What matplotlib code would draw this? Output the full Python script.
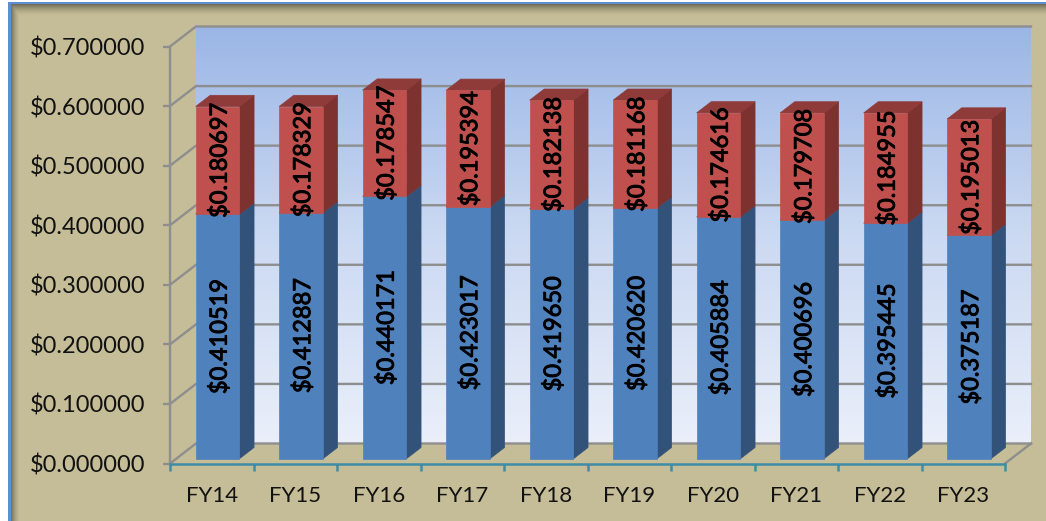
import numpy as np
import matplotlib
matplotlib.use("Agg")
import matplotlib.pyplot as plt
import matplotlib.patheffects as pe
from matplotlib.colors import LinearSegmentedColormap
from matplotlib.patches import Polygon

plt.rcParams['font.family'] = ['Lato', 'DejaVu Sans']

years = ["FY14", "FY15", "FY16", "FY17", "FY18", "FY19", "FY20", "FY21", "FY22", "FY23"]
lower = [0.410519, 0.412887, 0.440171, 0.423017, 0.419650,
         0.420620, 0.405884, 0.400696, 0.395445, 0.375187]
upper = [0.180697, 0.178329, 0.178547, 0.195394, 0.182138,
         0.181168, 0.174616, 0.179708, 0.184955, 0.195013]
y_ticks = [0.0, 0.1, 0.2, 0.3, 0.4, 0.5, 0.6, 0.7]

W, H = 1046, 521
TAN = "#C5BD97"
GRID = "#8E8E8E"
TEAL = "#3F8CA6"

fig = plt.figure(figsize=(W / 100, H / 100), dpi=100, facecolor="white")

# picture frame: tan panel with blue edge and a soft inner shadow
bg = fig.add_axes([0, 0, 1, 1], zorder=0)
bg.set_axis_off()
bg.set_xlim(0, W)
bg.set_ylim(H, 0)
xx, yy = np.meshgrid(np.arange(W) + 0.5, np.arange(H) + 0.5)
shade = np.maximum(np.clip(1 - (yy - 3) / 13, 0, 1) ** 1.6 * 0.62,
                   np.clip(1 - (xx - 10) / 10, 0, 1) ** 1.6 * 0.62)
rgb = np.array(matplotlib.colors.to_rgb(TAN))
img = (1 - shade[..., None] * 0.8) * rgb
img[(xx >= 8) & (xx < 11) & (yy >= 2)] = matplotlib.colors.to_rgb("#5B8FD0")
img[(yy >= 2) & (yy < 4) & (xx >= 8)] = matplotlib.colors.to_rgb("#5B8FD0")
img[(xx < 8) | (yy < 2)] = (1, 1, 1)
bg.imshow(img, extent=(0, W, H, 0), aspect="auto", interpolation="nearest")

# front plane of the 3D box: x in category units, y in dollars
left, right, bottom, top = 170, 1005, 463.5, 46.5
ax = fig.add_axes([left / W, 1 - bottom / H, (right - left) / W, (bottom - top) / H], zorder=1)
ax.patch.set_alpha(0)
ax.set_xlim(0, 10)
ax.set_ylim(0, 0.7)

# oblique projection: how far one unit of depth shifts a point
DX = 26 / ((right - left) / 10)
DY = 20 / ((bottom - top) / 0.7)


def proj(x, v, d):
    return (x + d * DX, v + d * DY)


def face(pts, color, z, edge=None):
    ax.add_patch(Polygon([proj(*p) for p in pts], closed=True, facecolor=color,
                         edgecolor=edge or color, linewidth=0.5, zorder=z, clip_on=False))


# back wall gradient
wall_cmap = LinearSegmentedColormap.from_list("wall", ["#EAEFFA", "#CBD9F2", "#9BB6E6"])
x0, y0 = proj(0, 0, 1)
x1, y1 = proj(10, 0.7, 1)
ax.imshow(np.linspace(1, 0, 256).reshape(-1, 1), cmap=wall_cmap, vmin=0, vmax=1,
          extent=(x0, x1, y0, y1), aspect="auto", zorder=1, clip_on=False)
ax.set_xlim(0, 10)
ax.set_ylim(0, 0.7)

# gridlines on the wall, and their continuation down the side wall
for t in y_ticks:
    ax.plot([proj(0, t, 0)[0], proj(0, t, 1)[0], proj(10, t, 1)[0]],
            [proj(0, t, 0)[1], proj(0, t, 1)[1], proj(10, t, 1)[1]],
            color=GRID, lw=1.7, zorder=2, clip_on=False, solid_joinstyle="miter")
ax.plot([proj(10, 0, 0)[0], proj(10, 0, 1)[0]], [proj(10, 0, 0)[1], proj(10, 0, 1)[1]],
        color=GRID, lw=1.7, zorder=2, clip_on=False)

# stacked 3D columns; the thin stroke thickens the labels since Lato has no bold here
BAR_W = 0.525
D0, D1 = 0.24, 0.8
heavy = [pe.withStroke(linewidth=0.7, foreground="black")]
for i in range(len(years)):
    xa = i + 0.5 - BAR_W / 2 - 0.005
    xb = xa + BAR_W
    for base, val, front, side, roof in [
        (0, lower[i], "#4F81BD", "#335279", "#3E6491"),
        (lower[i], upper[i], "#C0504D", "#7D3230", "#8E3B39"),
    ]:
        end = base + val
        face([(xb, base, D0), (xb, base, D1), (xb, end, D1), (xb, end, D0)], side, 3 + i * 0.01)
        face([(xa, end, D0), (xb, end, D0), (xb, end, D1), (xa, end, D1)], roof, 3 + i * 0.01)
        face([(xa, base, D0), (xb, base, D0), (xb, end, D0), (xa, end, D0)], front, 3.005 + i * 0.01)
        tx, ty = proj(i + 0.5, base + val / 2, D0)
        ax.text(tx + 0.02, ty, f"${val:.6f}", rotation=90, ha="center", va="center",
                fontsize=17, color="black", zorder=6, clip_on=False, path_effects=heavy)

# axes
for s in ["top", "right"]:
    ax.spines[s].set_visible(False)
ax.spines["left"].set_color(GRID)
ax.spines["left"].set_linewidth(1.7)
ax.spines["bottom"].set_color(TEAL)
ax.spines["bottom"].set_linewidth(1.8)
ax.spines["left"].set_zorder(2)
ax.spines["bottom"].set_zorder(2.5)

ax.set_yticks(y_ticks)
ax.set_yticklabels([f"${t:.6f}" for t in y_ticks], fontsize=17, color="#111111")
ax.tick_params(axis="y", length=5, width=1.7, color=GRID, pad=13)
ax.set_xticks(np.arange(0, 11))
ax.set_xticklabels([])
ax.tick_params(axis="x", which="major", length=5, width=1.8, color=TEAL)
ax.set_xticks(np.arange(len(years)) + 0.5, minor=True)
ax.set_xticklabels(years, minor=True, fontsize=16, color="#111111")
ax.tick_params(axis="x", which="minor", length=0, pad=16)

fig.savefig("out.png", dpi=100)
